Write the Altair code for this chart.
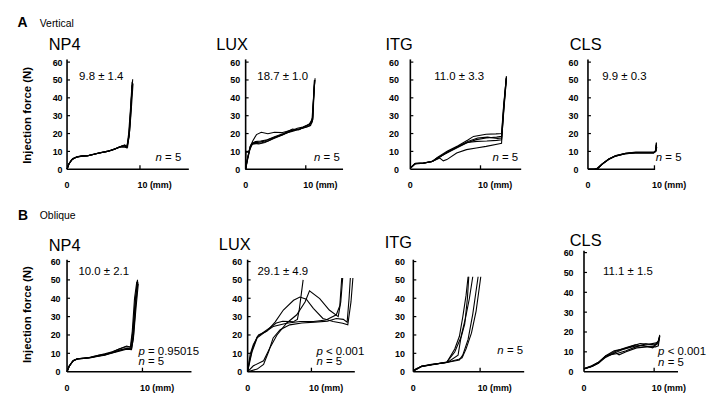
import altair as alt
import pandas as pd

FONT = "Liberation Sans"

# ---------------- data: injection force curves (x = mm, y = N) ----------------
Y_LABELS = [0, 10, 20, 30, 40, 50, 60]
Y_TICKS = [10, 20, 30, 40, 50, 60]
X_LABELS = [0, 10]

A_NP4 = [
    ([0, 0.2, 0.7, 1.3, 2.0, 2.7, 3.6, 4.5, 5.4, 6.3, 7.2, 7.8, 8.2, 8.5, 8.7, 9.0],
     [0, 2.8, 5.5, 6.8, 7.4, 7.4, 8.3, 9.2, 9.8, 11.0, 12.4, 12.5, 12.0, 19.4, 32, 50.4]),
    ([0, 0.3, 0.8, 1.5, 2.2, 3.0, 4.0, 5.0, 6.0, 6.8, 7.5, 8.0, 8.3, 8.6, 8.8, 8.95],
     [0, 3.2, 6.0, 7.2, 7.6, 7.8, 8.8, 9.6, 10.6, 11.8, 13.0, 13.2, 12.4, 22, 36, 49]),
    ([0, 0.2, 0.6, 1.2, 1.9, 2.8, 3.8, 4.8, 5.8, 6.6, 7.4, 7.9, 8.25, 8.5, 8.75, 9.05],
     [0, 2.4, 5.2, 6.6, 7.2, 7.5, 8.5, 9.4, 10.3, 11.4, 12.8, 13.6, 12.6, 18, 30, 48]),
    ([0, 0.25, 0.75, 1.4, 2.1, 2.9, 3.9, 4.9, 5.7, 6.5, 7.3, 7.9, 8.2, 8.45, 8.7, 8.9],
     [0, 3.0, 5.8, 7.0, 7.5, 7.6, 8.6, 9.5, 10.1, 11.2, 12.6, 13.4, 12.2, 20, 34, 47]),
    ([0, 0.2, 0.7, 1.3, 2.0, 2.8, 3.7, 4.6, 5.5, 6.4, 7.3, 7.85, 8.2, 8.5, 8.7, 8.95],
     [0, 2.6, 5.6, 6.9, 7.3, 7.6, 8.4, 9.3, 10.0, 11.1, 12.7, 13.0, 12.3, 19, 31, 49]),
]

A_LUX = [
    ([0, 0.2, 0.5, 0.8, 1.2, 2.0, 2.9, 4.5, 6.2, 7.8, 8.6, 9.5, 10.5, 11.1, 11.3, 11.5],
     [0, 4, 9, 13.2, 15, 15, 15.6, 17.5, 19.4, 21.8, 23, 23.6, 25, 27.7, 40, 50]),
    ([0, 0.3, 0.8, 1.2, 1.8, 2.6, 3.7, 4.8, 6.0, 7.5, 9.0, 10.5, 11.1, 11.3, 11.45],
     [0, 6, 13, 16, 19.4, 20.7, 19.9, 20.7, 20.5, 21.8, 22.5, 24, 27, 40, 50]),
    ([0, 0.05, 0.5, 0.8, 1.3, 2.2, 3.2, 4.5, 6.0, 7.5, 9.0, 10.3, 11.0, 11.25, 11.45],
     [0, 9.5, 9.5, 13, 14.5, 14.2, 15, 17, 19, 21.4, 22.5, 24.5, 26, 38, 50]),
    ([0, 0.3, 0.7, 1.1, 1.8, 2.7, 3.8, 5.0, 6.5, 8.0, 9.0, 10.0, 10.8, 11.2, 11.35, 11.5],
     [0, 5, 11, 14, 14.5, 14.8, 16, 18, 20, 21.5, 22.6, 23.5, 24.5, 28, 42, 50]),
    ([0, 0.2, 0.6, 1.0, 1.6, 2.5, 3.6, 4.8, 6.3, 7.8, 8.8, 9.8, 10.7, 11.15, 11.4, 11.55],
     [0, 4.5, 10, 14.2, 15.5, 15.8, 16.5, 18.2, 20, 22.5, 22, 23.8, 25.5, 29, 45, 51]),
]

A_ITG = [
    ([0, 0.7, 1.9, 3.1, 3.8, 5.2, 6.6, 8.0, 9.4, 10.8, 12.3, 13.0, 13.3, 13.7],
     [0.7, 3.2, 3.5, 4.3, 6.3, 9.1, 11.9, 14.7, 16.6, 17.5, 18, 18.4, 35, 52]),
    ([0, 0.7, 1.9, 3.1, 4.2, 4.7, 5.2, 6.6, 8.0, 9.4, 10.8, 12.7, 13.0, 13.3, 13.65],
     [0.7, 3.0, 3.4, 4.3, 6.3, 4.7, 5.4, 9.1, 11.0, 11.9, 12.8, 14.3, 14.5, 33, 51]),
    ([0, 0.7, 2.0, 3.1, 3.9, 5.3, 6.8, 8.2, 9.0, 10.8, 12.2, 13.0, 13.3, 13.7],
     [0.5, 3.3, 3.6, 4.4, 6.8, 10.2, 13.2, 16.4, 18.4, 19.6, 19.8, 20, 36, 52]),
    ([0, 0.6, 1.8, 3.0, 3.9, 5.2, 6.7, 8.1, 9.5, 10.9, 12.3, 13.0, 13.35, 13.7],
     [0.8, 3.1, 3.5, 4.2, 6.0, 9.5, 12.5, 15.0, 15.6, 15.8, 16.2, 16.5, 34, 51]),
    ([0, 0.7, 1.9, 3.2, 4.0, 5.4, 6.8, 8.2, 9.6, 11.0, 12.4, 13.0, 13.3, 13.7],
     [0.6, 3.2, 3.4, 4.5, 6.5, 9.8, 12.8, 15.5, 17.5, 18.0, 17.2, 17.5, 33, 51]),
]

A_CLS = [
    ([0, 1.0, 1.4, 2.1, 3.1, 4.1, 5.6, 7.1, 8.6, 9.9, 10.2, 10.3],
     [0, 0, 0.3, 2.8, 5.6, 7.4, 8.8, 9.3, 9.3, 9.3, 10.2, 15]),
    ([0, 1.1, 1.5, 2.2, 3.2, 4.2, 5.7, 7.2, 8.7, 9.95, 10.2, 10.3],
     [0, 0, 0.5, 3.2, 5.9, 7.7, 9.0, 9.6, 9.6, 9.6, 10.5, 14.5]),
    ([0, 0.9, 1.3, 2.0, 3.0, 4.0, 5.5, 7.0, 8.5, 9.85, 10.15, 10.25],
     [0, 0, 0.4, 2.6, 5.3, 7.2, 8.6, 9.1, 9.1, 9.1, 10.0, 13.5]),
    ([0, 1.05, 1.45, 2.15, 3.15, 4.15, 5.65, 7.15, 8.65, 9.9, 10.2, 10.3],
     [0, 0, 0.3, 2.9, 5.7, 7.5, 8.9, 9.4, 9.4, 9.5, 10.4, 14.8]),
    ([0, 1.0, 1.4, 2.1, 3.1, 4.1, 5.6, 7.1, 8.6, 9.9, 10.25, 10.35],
     [0, 0, 0.2, 2.7, 5.5, 7.3, 8.7, 9.2, 9.2, 9.2, 10.1, 12.5]),
]

B_NP4 = [
    ([0, 0.3, 0.8, 1.4, 2.2, 3.0, 4.0, 5.0, 6.0, 7.0, 7.9, 8.5, 8.75, 9.05, 9.35],
     [0, 3, 6, 7, 7.2, 7.6, 8.4, 9.3, 10.3, 11.6, 12.6, 12.5, 20, 38, 50]),
    ([0, 0.2, 0.7, 1.3, 2.0, 3.0, 4.0, 5.0, 6.0, 6.9, 7.8, 8.4, 8.65, 8.95, 9.25],
     [0, 2.5, 5.5, 7, 7.3, 7.8, 8.8, 9.7, 10.9, 12.3, 13.6, 13.4, 22, 40, 49]),
    ([0, 0.3, 0.9, 1.5, 2.3, 3.2, 4.2, 5.2, 6.2, 7.1, 8.0, 8.55, 8.8, 9.15, 9.45],
     [0, 3.2, 6.3, 7.2, 7.2, 7.9, 8.9, 9.6, 10.6, 11.9, 12.8, 12.4, 18, 35, 48]),
    ([0, 0.25, 0.8, 1.4, 2.1, 3.1, 4.1, 5.1, 6.1, 7.0, 7.9, 8.45, 8.7, 9.05, 9.35],
     [0, 2.8, 5.8, 6.9, 7.4, 7.7, 8.5, 9.3, 10.8, 12.5, 14.0, 13.3, 21, 39, 50]),
    ([0, 0.3, 0.8, 1.4, 2.2, 3.0, 4.0, 5.0, 5.9, 6.9, 7.9, 8.55, 8.8, 9.1, 9.4],
     [0, 3, 6, 7, 7.2, 7.5, 8.3, 9.0, 10.0, 11.2, 12.2, 12, 19, 36, 49]),
]

B_LUX = [
    ([0, 0.3, 0.8, 1.5, 2.5, 3.5, 4.5, 5.5, 6.5, 7.3, 7.8, 8.1, 8.4, 8.7],
     [0, 6, 13, 19, 21.5, 24, 26.5, 27.5, 27.3, 27.5, 28.5, 34, 42, 50]),
    ([0, 0.4, 0.9, 1.7, 3.0, 4.3, 5.6, 7.2, 8.2, 9.2, 10.3, 11.8, 13.4, 14.9, 15.7, 16.2, 16.5],
     [0, 9.5, 14.8, 20, 22, 27, 33.6, 38.9, 40.7, 39.5, 34.5, 29, 27.3, 26.4, 25.5, 38, 51]),
    ([0, 0.9, 2.5, 3.5, 4.6, 6.1, 7.7, 9.0, 9.7, 11.3, 12.8, 14.2, 14.6, 14.9],
     [0, 3.2, 5.9, 13, 20, 26.4, 31, 38, 44, 39.8, 33.6, 30, 38, 51]),
    ([0, 0.7, 1.5, 2.5, 4.0, 6.1, 8.2, 10.3, 12.3, 13.9, 14.45, 14.75],
     [0, 11, 18.4, 21, 24.6, 26.4, 27.3, 27.3, 28.2, 31, 36, 51]),
    ([0, 1.5, 2.5, 3.3, 4.0, 5.1, 6.6, 8.5, 10.5, 12.5, 13.9, 15.0, 15.6, 15.9, 16.1],
     [0, 1.4, 4, 11, 18.4, 22.9, 25.5, 26.5, 27, 27.5, 29, 28.5, 27, 40, 51]),
]

B_ITG = [
    ([0, 0.5, 1.2, 2.7, 5.0, 6.2, 7.2, 7.7, 8.1, 8.3],
     [0.5, 1.5, 2.9, 3.8, 5.2, 10.7, 19.3, 26, 40, 51.7]),
    ([0, 0.4, 1.2, 2.7, 5.0, 6.2, 6.9, 7.4, 7.9, 8.2],
     [0.3, 1.2, 3.0, 4.0, 5.0, 12.4, 19.3, 29.7, 41.7, 51.7]),
    ([0, 0.5, 1.3, 2.8, 5.2, 6.7, 7.2, 7.8, 8.4, 8.9],
     [0.6, 1.4, 2.8, 3.9, 5.3, 9, 20, 29, 40, 51.7]),
    ([0, 0.5, 1.2, 2.6, 5.0, 6.9, 7.4, 8.2, 8.9, 9.7],
     [0.4, 1.3, 3.0, 3.8, 5.0, 6.4, 9, 17.6, 31.4, 51.7]),
    ([0, 0.4, 1.3, 2.7, 5.1, 6.8, 7.3, 7.9, 8.7, 9.4, 10.1],
     [0.5, 1.6, 2.9, 3.6, 5.1, 6.8, 7.6, 12.4, 21, 33, 51.7]),
]

B_CLS = [
    ([0, 1.2, 2.1, 3.1, 4.5, 5.9, 7.3, 8.7, 9.9, 10.6, 10.8],
     [1.5, 2.8, 4.5, 7.8, 10.3, 12, 13.6, 12.8, 12.8, 15.3, 18.6]),
    ([0, 1.0, 2.0, 3.0, 4.4, 5.8, 7.2, 8.5, 9.8, 10.5, 10.75],
     [1.3, 2.5, 4.2, 7.0, 9.5, 11.5, 12.8, 13.2, 12.0, 14.5, 17.5]),
    ([0, 1.1, 2.2, 3.2, 4.6, 6.0, 7.4, 8.8, 10.0, 10.55, 10.7],
     [1.6, 3.0, 5.0, 8.2, 9.0, 10.5, 12.5, 14.0, 13.5, 14, 16.5]),
    ([0, 1.2, 2.1, 3.0, 4.5, 5.0, 6.0, 7.5, 9.0, 10.2, 10.6, 10.8],
     [1.4, 2.7, 4.4, 7.5, 9.5, 8.5, 10, 12, 12.5, 12.5, 13, 18]),
    ([0, 1.0, 2.0, 3.1, 4.3, 5.7, 7.0, 8.0, 9.2, 10.3, 10.65, 10.8],
     [1.5, 2.6, 4.6, 8.0, 10.5, 11.5, 13.0, 14.2, 13.8, 14.5, 15.5, 17.8]),
]


def curves_df(curves):
    rows = []
    for r, (xs, ys) in enumerate(curves):
        for i, (x, y) in enumerate(zip(xs, ys)):
            rows.append({"run": r, "i": i, "x": x, "y": y})
    return pd.DataFrame(rows)


def one(text):
    return pd.DataFrame({"t": [text]})


def txt(text, x, y, size=11.5, weight="normal", style="normal", align="left",
        baseline="middle", font=FONT):
    return alt.Chart(one(text)).mark_text(
        font=font, fontSize=size, fontWeight=weight, fontStyle=style,
        align=align, baseline=baseline, color="black"
    ).encode(text="t:N", x=alt.value(x), y=alt.value(y))


def italic_pair(first, rest, x, y, size=11.5):
    return [txt(first, x, y, size=size, style="italic"),
            txt(rest, x + 0.834 * size, y, size=size)]


def panel(curves, W, H, xdom, ydom, xend, ytop, ylabpad, xlabpad, ytitle, annots,
          title_y=0.0):
    df = curves_df(curves)
    xs = alt.Scale(domain=[0, xdom], nice=False, zero=False)
    ys = alt.Scale(domain=[0, ydom], nice=False, zero=False)
    xax = alt.Axis(values=X_LABELS, domain=False, ticks=False, grid=False,
                   labelExpr="datum.value == 10 ? '10 (mm)' : datum.label",
                   labelFont=FONT, labelFontSize=9, labelFontWeight="bold",
                   labelColor="black", labelPadding=xlabpad, labelAlign="left",
                   labelOffset=-3)
    yargs = dict(values=Y_LABELS, domain=False, ticks=False, grid=False,
                 labelFont=FONT, labelFontSize=9, labelFontWeight="bold",
                 labelColor="black", labelPadding=ylabpad)
    if ytitle:
        yax = alt.Axis(titleX=-39.5, titleY=title_y, titleAngle=270,
                       titleAlign="center", titleBaseline="middle",
                       titleFont=FONT, titleFontSize=11.5, titleFontWeight="bold",
                       titleColor="black", **yargs)
        ytit = "Injection force (N)"
    else:
        yax = alt.Axis(**yargs)
        ytit = None
    X = lambda f: alt.X(f, scale=xs, axis=xax, title=None)
    Y = lambda f: alt.Y(f, scale=ys, axis=yax, title=ytit)

    lines = alt.Chart(df).mark_line(color="black", strokeWidth=1.1).encode(
        x=X("x:Q"), y=Y("y:Q"), detail="run:N", order="i:Q")
    axdf = pd.DataFrame({"x": [0], "x2": [xend], "y": [0], "y2": [ytop], "xt": [10]})
    xline = alt.Chart(axdf).mark_rule(color="black", strokeWidth=1.6).encode(
        x=X("x:Q"), x2="x2:Q", y=Y("y:Q"))
    yline = alt.Chart(axdf).mark_rule(color="black", strokeWidth=1.6).encode(
        x=X("x:Q"), y=Y("y:Q"), y2="y2:Q")
    xtick = alt.Chart(axdf).mark_rule(color="black", strokeWidth=1.3).encode(
        x=X("xt:Q"), y=alt.value(H), y2=alt.value(H - 4))
    ytick = alt.Chart(pd.DataFrame({"y": Y_TICKS})).mark_rule(
        color="black", strokeWidth=1.2).encode(
        y=Y("y:Q"), x=alt.value(0), x2=alt.value(3))
    return alt.layer(lines, xline, yline, xtick, ytick, *annots).properties(
        width=W, height=H)


HA, HB = 112, 125

# Row A ------------------------------------------------------------------
pA = [
    panel(A_NP4, 135, HA, 135 / 7.35, HA / 1.8, 16.7, 61.5, 5, 11, True,
          [txt("A", -50, -31.3, size=14, weight="bold", baseline="alphabetic"),
           txt("Vertical", -27.5, -31.3, size=10.5, baseline="alphabetic"),
           txt("NP4", -2.5, -8.3, size=16.5, align="center", baseline="alphabetic"),
           txt("9.8 ± 1.4", 34.5, 18.7, align="center"),
           *italic_pair("n", "= 5", 89.2, 100.7)], title_y=57.2),
    panel(A_LUX, 121, HA, 121 / 6.06, HA / 1.8, 16.2, 61.5, 6, 11, False,
          [txt("LUX", -13.7, -8.3, size=16.5, align="center", baseline="alphabetic"),
           txt("18.7 ± 1.0", 37.3, 18.7, align="center"),
           *italic_pair("n", "= 5", 69, 100.7)]),
    panel(A_ITG, 134, HA, 134 / 7.07, HA / 1.8, 15.8, 61.5, 12, 11, False,
          [txt("ITG", -11.3, -8.3, size=16.5, align="center", baseline="alphabetic"),
           txt("11.0 ± 3.3", 49.2, 18.7, align="center"),
           *italic_pair("n", "= 5", 82.7, 100.7)]),
    panel(A_CLS, 80, HA, 80 / 6.7, HA / 1.8, 10.1, 61.5, 10, 11, False,
          [txt("CLS", -2.3, -8.3, size=16.5, align="center", baseline="alphabetic"),
           txt("9.9 ± 0.3", 36.7, 18.7, align="center"),
           *italic_pair("n", "= 5", 68.4, 100.7)]),
]

# Row B ------------------------------------------------------------------
pB = [
    panel(B_NP4, 137, HB, 137 / 7.6, HB / 1.85, 16.5, 61, 7, 11.5, True,
          [txt("B", -49.5, -27.5, size=14, weight="bold", baseline="alphabetic"),
           txt("Oblique", -27.5, -29, size=10.5, baseline="alphabetic"),
           txt("NP4", -2.5, 3, size=16.5, align="center", baseline="alphabetic"),
           txt("10.0 ± 2.1", 37, 24.7, align="center"),
           *italic_pair("p", "= 0.95015", 72, 104.7),
           *italic_pair("n", "= 5", 72, 115.5)], title_y=67),
    panel(B_LUX, 122, HB, 122 / 6.43, HB / 1.85, 16.8, 61, 6, 11.5, False,
          [txt("LUX", -13, 2, size=16.5, align="center", baseline="alphabetic"),
           txt("29.1 ± 4.9", 35.5, 24.7, align="center"),
           *italic_pair("p", "< 0.001", 69.3, 104.7),
           *italic_pair("n", "= 5", 69.3, 115.5)]),
    panel(B_ITG, 127, HB, 127 / 6.73, HB / 1.85, 16.6, 61, 9, 11.5, False,
          [txt("ITG", -15, 0.7, size=16.5, align="center", baseline="alphabetic"),
           *italic_pair("n", "= 5", 84.7, 104)]),
    panel(B_CLS, 100, HB, 100 / 7.07, HB / 2.0, 13.4, 61, 11, 11.5, False,
          [txt("CLS", 1.7, -1.5, size=16.5, align="center", baseline="alphabetic"),
           txt("11.1 ± 1.5", 44.2, 24.7, align="center"),
           *italic_pair("p", "< 0.001", 74.7, 104.7),
           *italic_pair("n", "= 5", 74.7, 116)]),
]

rowA = alt.hconcat(*pA, spacing=45, bounds="flush")
rowB = alt.hconcat(*pB, spacing=45, bounds="flush")

# with flush bounds the nested row contributes no height, so the spacing
# spans row A's plot height plus the gap between the rows
chart = alt.vconcat(rowA, rowB, spacing=HA + 79, bounds="flush").properties(
    padding={"left": 9.5, "top": 6, "right": 5, "bottom": 5},
    background="white",
).configure_view(stroke=None)

chart.save("out.html", embed_options={"renderer": "svg", "actions": False})
